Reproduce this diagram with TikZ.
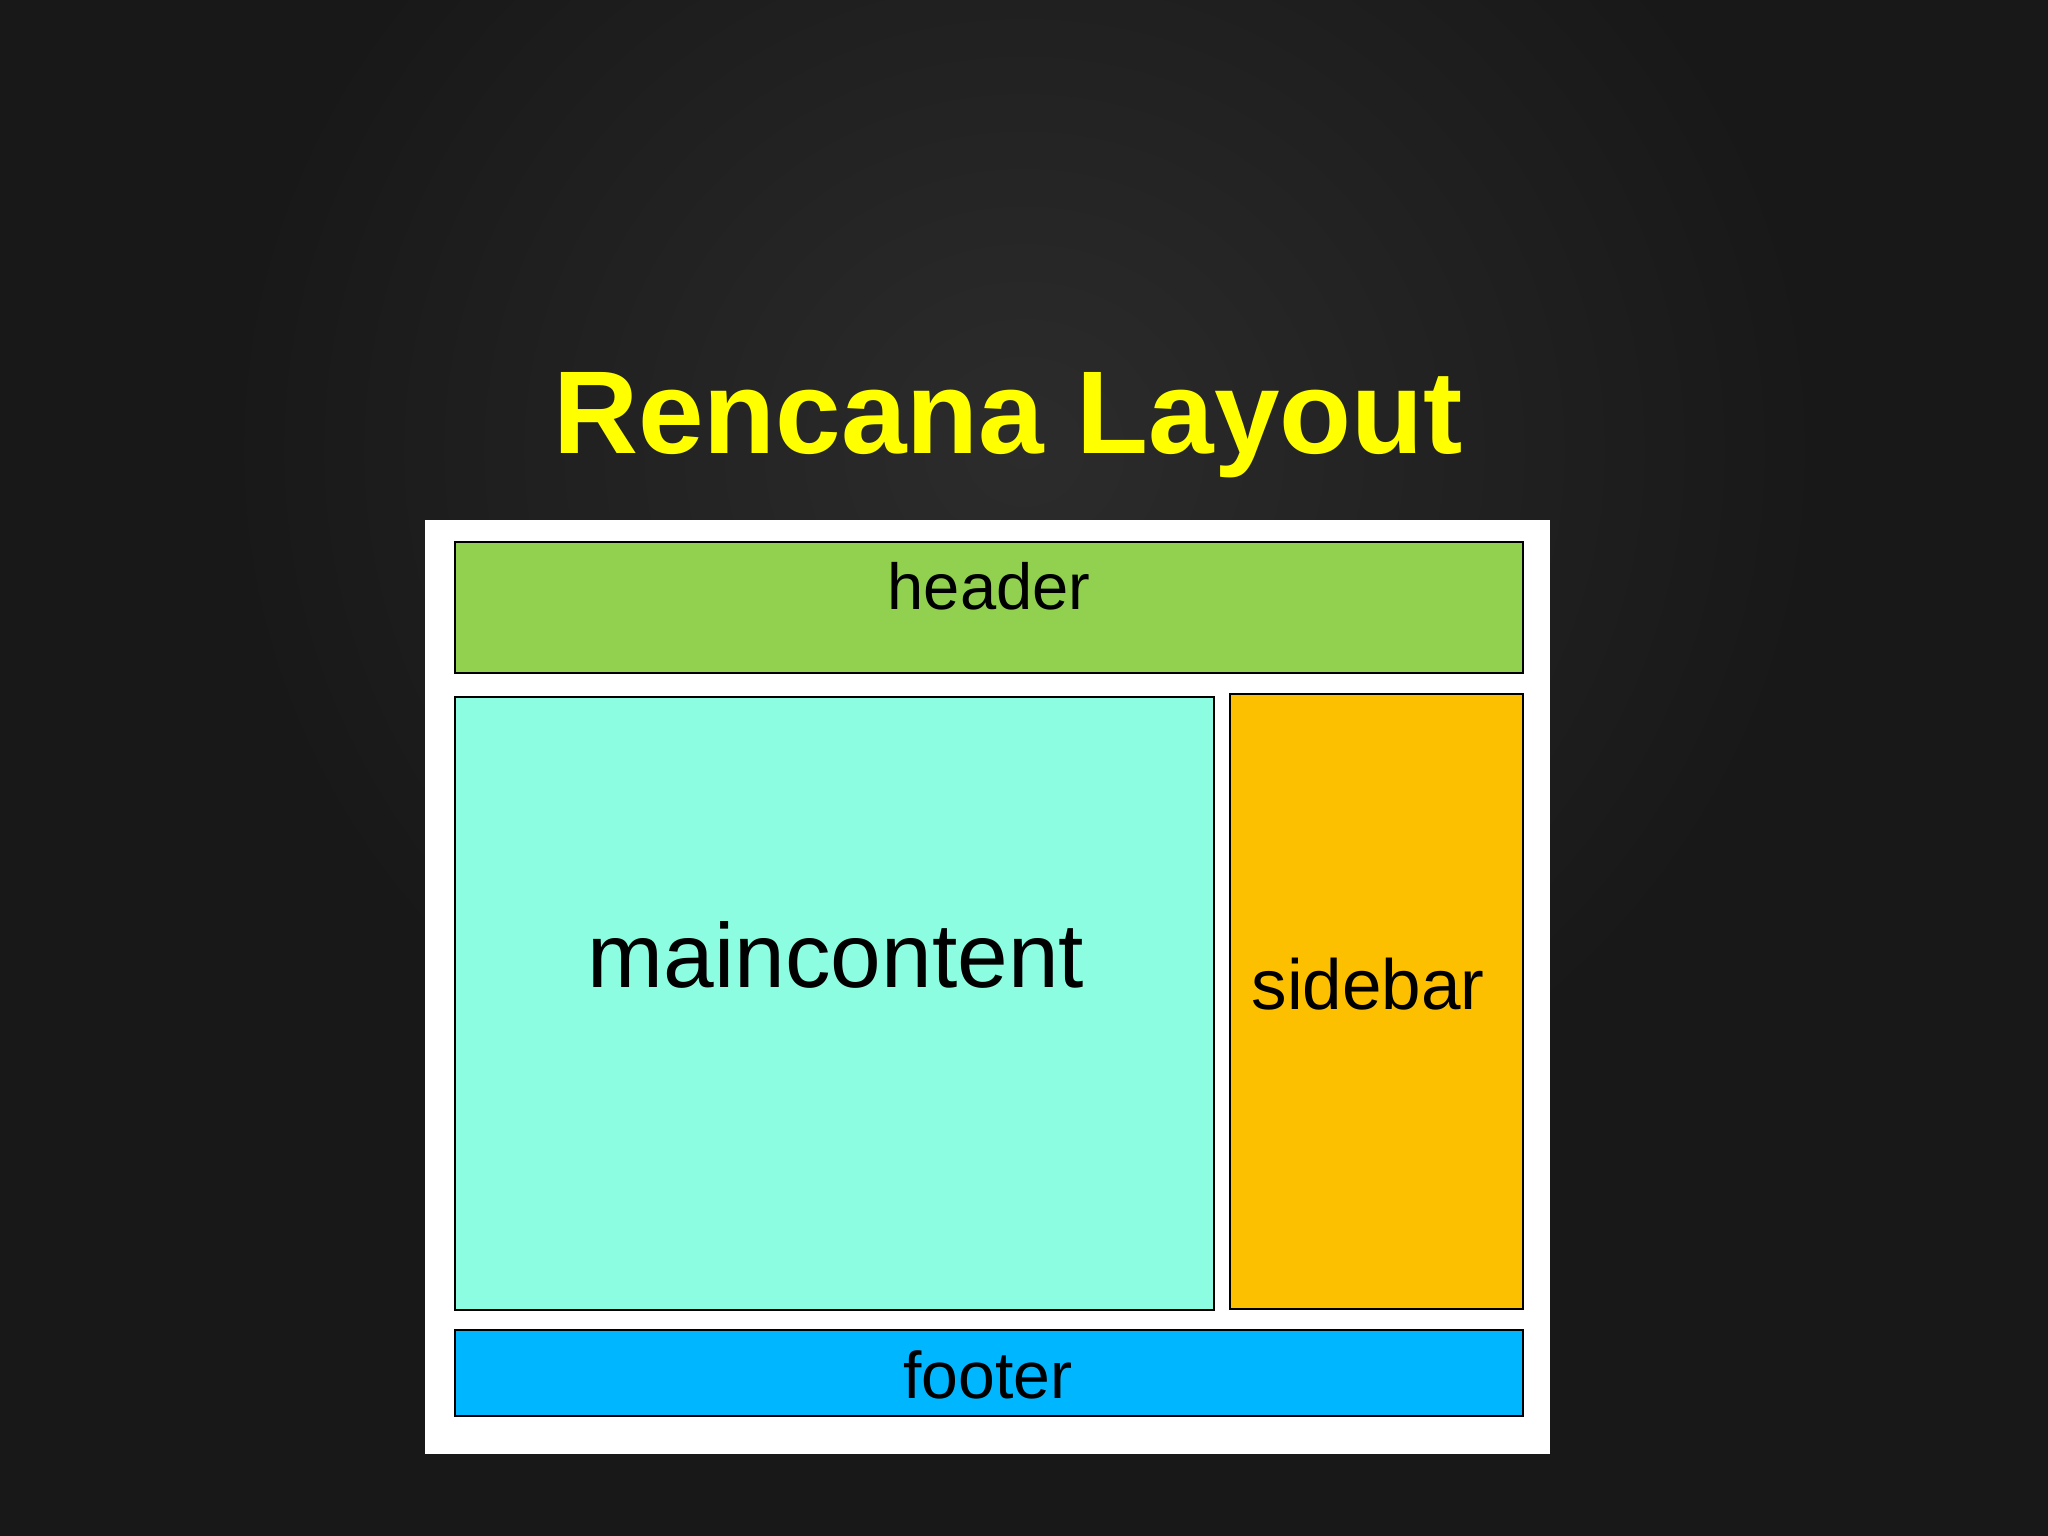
\documentclass[tikz,border=0pt]{standalone}
\usepackage{fontspec}
\setmainfont{Liberation Sans}
\definecolor{bgdark}{RGB}{24,24,24}
\definecolor{bglight}{RGB}{44,44,44}
\definecolor{titleyellow}{RGB}{255,255,0}
\definecolor{headergreen}{RGB}{146,208,80}
\definecolor{mainaqua}{RGB}{140,253,224}
\definecolor{sidegold}{RGB}{253,192,0}
\definecolor{footblue}{RGB}{0,183,255}

\begin{document}
\begin{tikzpicture}[x=0.01cm,y=-0.01cm]
\tikzset{every node/.style={inner sep=0pt,anchor=base}}
\tikzset{part/.style={draw=black,line width=0.6pt}}
\useasboundingbox (0,0) rectangle (2048,1536);
\fill [bgdark] (0,0) rectangle (2048,1536);
\begin{scope}
\clip (0,0) rectangle (2048,1536);
\shade [inner color=bglight,outer color=bgdark] (1024,450) ellipse (800 and 750);
\end{scope}
\node (title) at (1008,453) {\fontsize{33.5}{40}\selectfont\bfseries\color{titleyellow}Rencana Layout};
\fill [white] (425,520) rectangle (1550,1454);
\draw [part,fill=headergreen] (455,542) rectangle (1523,673);
\node (header) at (989,609) {\fontsize{18.5}{22}\selectfont header};
\draw [part,fill=mainaqua] (455,697) rectangle (1214,1310);
\node (maincontent) at (836,987) {\fontsize{25.9}{31}\selectfont maincontent};
\draw [part,fill=sidegold] (1230,694) rectangle (1523,1309);
\node (sidebar) at (1368,1009) {\fontsize{20.2}{24}\selectfont sidebar};
\draw [part,fill=footblue] (455,1330) rectangle (1523,1416);
\node (footer) at (988,1398) {\fontsize{18.8}{22}\selectfont footer};
\end{tikzpicture}
\end{document}
